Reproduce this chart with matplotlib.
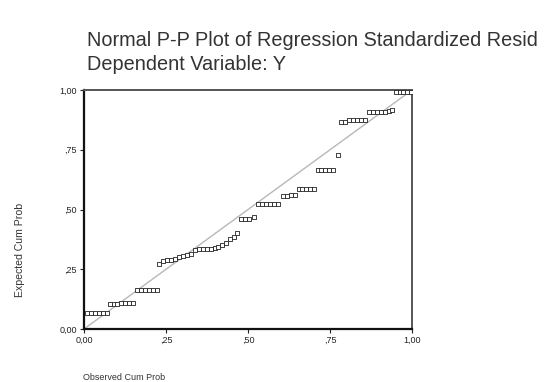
import matplotlib
matplotlib.use("Agg")
import matplotlib.pyplot as plt
import numpy as np

plt.rcParams['font.family'] = ['Liberation Sans', 'DejaVu Sans']

# observed cumulative probability (x) and expected cumulative probability (y)
obs = [0.010, 0.022, 0.034, 0.046, 0.058, 0.070,
       0.078, 0.090, 0.102, 0.114, 0.126, 0.138, 0.150,
       0.162, 0.174, 0.186, 0.198, 0.210, 0.222,
       0.230, 0.242, 0.254, 0.266, 0.278, 0.290, 0.302, 0.314, 0.326,
       0.338, 0.350, 0.362, 0.374, 0.386, 0.398, 0.410, 0.422, 0.434,
       0.446, 0.456, 0.466,
       0.480, 0.492, 0.504,
       0.518, 0.530, 0.542, 0.554, 0.566, 0.578, 0.590,
       0.606, 0.618, 0.630, 0.642,
       0.654, 0.666, 0.678, 0.690, 0.702,
       0.712, 0.724, 0.736, 0.748, 0.760,
       0.775,
       0.785, 0.797, 0.809, 0.821, 0.833, 0.845, 0.857,
       0.870, 0.882, 0.894, 0.906, 0.918, 0.930, 0.940,
       0.950, 0.962, 0.974, 0.986, 0.998]
exp = [0.065, 0.065, 0.065, 0.065, 0.065, 0.065,
       0.105, 0.105, 0.105, 0.108, 0.108, 0.108, 0.110,
       0.163, 0.163, 0.163, 0.163, 0.163, 0.163,
       0.272, 0.285, 0.290, 0.290, 0.295, 0.300, 0.305, 0.310, 0.315,
       0.330, 0.335, 0.335, 0.335, 0.335, 0.340, 0.345, 0.350, 0.360,
       0.375, 0.385, 0.400,
       0.460, 0.460, 0.460,
       0.470, 0.523, 0.523, 0.523, 0.523, 0.523, 0.523,
       0.555, 0.555, 0.560, 0.560,
       0.585, 0.585, 0.585, 0.585, 0.585,
       0.665, 0.665, 0.665, 0.665, 0.665,
       0.730,
       0.865, 0.865, 0.875, 0.875, 0.875, 0.875, 0.875,
       0.910, 0.910, 0.910, 0.910, 0.910, 0.912, 0.915,
       0.990, 0.990, 0.990, 0.990, 0.990]

xticks = [0, 0.25, 0.5, 0.75, 1.0]
xticklabels = ['0,00', ',25', ',50', ',75', '1,00']
yticklabels = ['0,00', ',25', ',50', ',75', '1,00']

fig = plt.figure(figsize=(5.47, 3.82), dpi=100)
ax = fig.add_axes([0.1536, 0.1387, 0.5996, 0.6256])

ax.plot([0, 1], [0, 1], color='#b8b8b8', lw=1.0, zorder=1)
ax.scatter(obs, exp, marker='s', s=9, facecolors='white', edgecolors='#222222',
           linewidths=0.6, zorder=3)

ax.set_xlim(0, 1)
ax.set_ylim(0, 1)
ax.set_xticks(xticks)
ax.set_xticklabels(xticklabels)
ax.set_yticks(xticks)
ax.set_yticklabels(yticklabels)
ax.tick_params(direction='out', length=3, width=0.8, labelsize=6.5, pad=2,
               colors='#222222')

for side in ['left', 'bottom']:
    ax.spines[side].set_linewidth(1.6)
    ax.spines[side].set_color('#111111')
for side in ['top', 'right']:
    ax.spines[side].set_linewidth(1.4)
    ax.spines[side].set_color('#555555')

fig.text(87 / 547, 1 - 40 / 382, 'Normal P-P Plot of Regression Standardized Resid',
         fontsize=14.3, color='#333333', va='center', ha='left')
fig.text(87 / 547, 1 - 65 / 382, 'Dependent Variable: Y',
         fontsize=14.3, color='#333333', va='center', ha='left')
fig.text(20 / 547, 1 - 250 / 382, 'Expected Cum Prob', rotation=90,
         fontsize=7.6, color='#333333', va='center', ha='center')
fig.text(83 / 547, 1 - 377 / 382, 'Observed Cum Prob',
         fontsize=6.5, color='#333333', va='center', ha='left')

fig.savefig('out.png', dpi=100)
